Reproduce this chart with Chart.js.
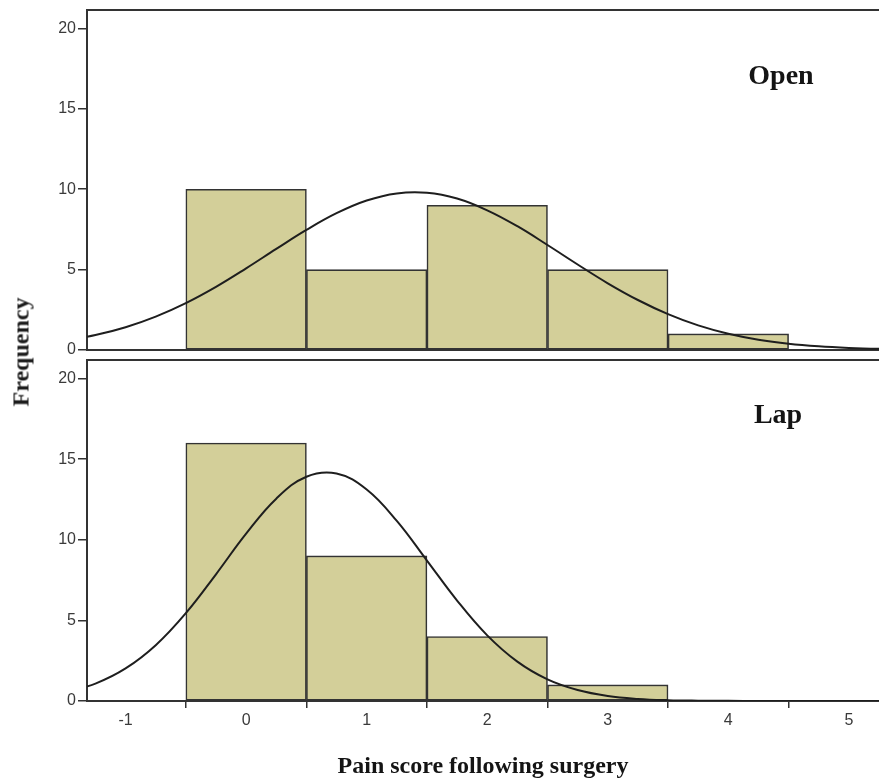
<!DOCTYPE html>
<html><head><meta charset="utf-8">
<script src="https://cdn.jsdelivr.net/npm/chart.js@4.4.0/dist/chart.umd.min.js"></script>
<style>
html,body{margin:0;padding:0;background:#fff;}
#wrap{position:relative;width:879px;height:780px;overflow:hidden;background:#fff;}
canvas{position:absolute;left:0;}
#c1{top:0;} #c2{top:355px;}
#ylab{position:absolute;left:21px;top:352px;transform:translate(-50%,-50%) rotate(-90deg);font:bold 24px "Liberation Serif","Times New Roman",serif;color:#1c1c1c;white-space:nowrap;}
</style></head><body>
<div id="wrap">
<canvas id="c1" width="879" height="362"></canvas>
<canvas id="c2" width="879" height="425"></canvas>
<div id="ylab">Frequency</div>
</div>
<script>
const openBins=[0,1,2,3,4];
const openCounts=[10,5,9,5,1];
const lapBins=[0,1,2,3];
const lapCounts=[16,9,4,1];
const curveX=[-1.5,-1.25,-1,-0.75,-0.5,-0.25,0,0.25,0.5,0.75,1,1.25,1.5,1.75,2,2.25,2.5,2.75,3,3.25,3.5,3.75,4,4.25,4.5,4.75,5,5.25,5.5];
const openCurve=[0.58,0.93,1.42,2.08,2.92,3.93,5.08,6.29,7.47,8.51,9.30,9.74,9.78,9.42,8.69,7.70,6.53,5.32,4.15,3.11,2.23,1.53,1.01,0.64,0.39,0.23,0.13,0.07,0.04];
const lapCurve=[0.53,1.08,2.02,3.46,5.45,7.86,10.38,12.55,13.91,14.11,13.12,11.17,8.71,6.23,4.07,2.44,1.34,0.68,0.31,0.13,0.05,0.02,0.01,0,0,0,0,0,0];
const yTicks=[0,5,10,15,20];
const xTicks=[-1,0,1,2,3,4,5];
const panelLabels=['Open','Lap'];
const xTitle='Pain score following surgery';

Chart.defaults.devicePixelRatio=1;
const tickFont={family:'"Liberation Sans", Arial, sans-serif',size:16};
const tickColor='#3a3a3a';
const lineCol='#333333';

function makeChart(id,bins,counts,curve,label,showX,labelPos){
  const labelPlugin={id:'panelLabel',afterDraw(chart){
    const c=chart.ctx;c.save();
    c.font='bold 28px "Liberation Serif", "Times New Roman", serif';
    c.fillStyle='#141414';c.textAlign='center';c.textBaseline='alphabetic';
    c.fillText(label,labelPos[0],labelPos[1]);c.restore();}};
  return new Chart(document.getElementById(id),{
    type:'bar',
    data:{datasets:[
      {type:'line',data:curveX.map((x,i)=>({x:x,y:curve[i]})),borderColor:'#1e1e1e',borderWidth:2,pointRadius:0,tension:0.4,fill:false,order:0},
      {type:'bar',data:bins.map((x,i)=>({x:x,y:counts[i]})),backgroundColor:'#d3cf99',borderColor:'#333333',borderWidth:1.6,borderSkipped:false,barPercentage:1,categoryPercentage:1,grouped:false,order:1}
    ]},
    options:{
      responsive:false,animation:false,
      layout:{padding:showX?{top:5,bottom:1,left:0,right:0}:{top:10,bottom:12,left:0,right:0}},
      plugins:{legend:{display:false},tooltip:{enabled:false}},
      scales:{
        x:{type:'linear',position:'bottom',min:-1.32,max:5.25,offset:false,
          afterBuildTicks:s=>{s.ticks=xTicks.map(v=>({value:v}));},
          ticks:{display:showX,font:tickFont,color:tickColor,padding:3,maxRotation:0,autoSkip:false},
          grid:{display:showX,drawOnChartArea:false,drawTicks:true,tickLength:7,color:lineCol,lineWidth:1.5},
          border:{display:true,color:lineCol,width:2},
          title:{display:showX,text:xTitle,font:{family:'"Liberation Serif", "Times New Roman", serif',size:24,weight:'bold',lineHeight:1},color:'#141414',padding:{top:0,bottom:0}},
          afterFit:s=>{s.height=showX?78:0;s.paddingLeft=0;s.paddingRight=0;}},
        xTop:{type:'linear',position:'top',min:-1.32,max:5.25,offset:false,
          ticks:{display:false},grid:{display:false},border:{display:true,color:lineCol,width:2},
          afterFit:s=>{s.height=0;s.paddingLeft=0;s.paddingRight=0;}},
        y:{min:0,max:21.15,
          afterBuildTicks:s=>{s.ticks=yTicks.map(v=>({value:v}));},
          ticks:{font:tickFont,color:tickColor,padding:2},
          grid:{drawOnChartArea:false,drawTicks:true,tickLength:9,color:lineCol,lineWidth:1.5},
          border:{display:true,color:lineCol,width:2},
          afterFit:s=>{s.width=87;s.paddingTop=0;s.paddingBottom=0;}}
      }
    },
    plugins:[labelPlugin]
  });
}
makeChart('c1',openBins,openCounts,openCurve,panelLabels[0],false,[781,84]);
makeChart('c2',lapBins,lapCounts,lapCurve,panelLabels[1],true,[778,68]);
</script>
</body></html>
